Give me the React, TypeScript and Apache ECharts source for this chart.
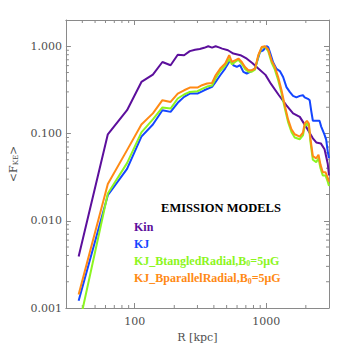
import React, { useEffect, useRef } from "react";
import * as echarts from "echarts";

// ---- data ----
const kinR = [37.5, 62.5, 87.5, 112.5, 137.5, 162.5, 187.5, 212.5, 237.5, 262.5, 287.5, 312.5, 337.5, 362.5, 387.5, 412.5, 437.5, 462.5, 512, 562, 637, 712, 787, 862, 987, 1087, 1237, 1425, 1600, 1800, 2075, 2262, 2400, 2600, 2775, 2935, 3000];
const kinF = [0.0039, 0.098, 0.185, 0.39, 0.474, 0.66, 0.606, 0.8, 0.79, 0.88, 0.91, 0.93, 0.96, 1.0, 0.966, 1.0, 0.97, 0.94, 0.9, 0.825, 0.79, 0.72, 0.64, 0.565, 0.47, 0.37, 0.28, 0.21, 0.17, 0.155, 0.11, 0.088, 0.079, 0.077, 0.066, 0.045, 0.033];

const kjR = [37.5, 62.5, 87.5, 112.5, 137.5, 162.5, 187.5, 212.5, 237.5, 262.5, 300, 337.5, 387.5, 412.5, 447, 487, 532, 562, 598, 633, 670, 711, 754, 822, 896, 949, 1007, 1035, 1066, 1129, 1198, 1269, 1344, 1425, 1509, 1598, 1696, 1800, 1901, 1958, 2074, 2140, 2200, 2262, 2400, 2541, 2617, 2772, 2855, 2935, 3000];
const kjF = [0.00121, 0.0196, 0.0394, 0.092, 0.127, 0.185, 0.177, 0.225, 0.263, 0.287, 0.287, 0.313, 0.342, 0.39, 0.465, 0.555, 0.69, 0.606, 0.579, 0.606, 0.508, 0.487, 0.508, 0.555, 0.86, 0.9, 1.0, 0.98, 0.86, 0.65, 0.55, 0.52, 0.445, 0.34, 0.3, 0.27, 0.26, 0.27, 0.275, 0.26, 0.25, 0.24, 0.18, 0.14, 0.14, 0.14, 0.12, 0.097, 0.085, 0.062, 0.052];

const bR = [37.5, 62.5, 87.5, 112.5, 137.5, 162.5, 187.5, 212.5, 237.5, 262.5, 300, 325, 355, 387.5, 412.5, 447, 488, 523, 548, 580, 615, 652, 690, 731, 776, 822, 870, 923, 978, 1035, 1098, 1163, 1232, 1307, 1384, 1466, 1555, 1646, 1796, 1901, 1958, 2038, 2110, 2173, 2262, 2399, 2497, 2585, 2691, 2820, 2935, 3000];
const tangledF = [0.0006, 0.0205, 0.0458, 0.103, 0.145, 0.199, 0.193, 0.252, 0.28, 0.3, 0.305, 0.325, 0.345, 0.355, 0.43, 0.52, 0.6, 0.72, 0.62, 0.66, 0.7, 0.63, 0.55, 0.51, 0.51, 0.54, 0.77, 0.96, 0.99, 0.88, 0.65, 0.54, 0.41, 0.29, 0.195, 0.135, 0.104, 0.09, 0.086, 0.095, 0.12, 0.13, 0.12, 0.078, 0.05, 0.047, 0.052, 0.04, 0.033, 0.033, 0.028, 0.025];
const parallelF = [0.00143, 0.0263, 0.0645, 0.127, 0.17, 0.241, 0.23, 0.287, 0.313, 0.336, 0.336, 0.358, 0.374, 0.38, 0.465, 0.555, 0.634, 0.789, 0.661, 0.691, 0.723, 0.661, 0.579, 0.531, 0.531, 0.555, 0.789, 0.98, 1.0, 0.92, 0.69, 0.58, 0.445, 0.313, 0.21, 0.145, 0.112, 0.098, 0.092, 0.102, 0.13, 0.14, 0.13, 0.085, 0.055, 0.052, 0.057, 0.044, 0.036, 0.036, 0.031, 0.028];

const xMinorTicks = [40, 50, 60, 70, 80, 90, 200, 300, 400, 500, 600, 700, 800, 900, 2000];
const yMinorTicks = [0.002, 0.003, 0.004, 0.005, 0.006, 0.007, 0.008, 0.009, 0.02, 0.03, 0.04, 0.05, 0.06, 0.07, 0.08, 0.09, 0.2, 0.3, 0.4, 0.5, 0.6, 0.7, 0.8, 0.9];

const X_MIN = 30, X_MAX = 3000, Y_MIN = 0.001, Y_MAX = 2;

const C_KIN = "#5c0f9c";
const C_KJ = "#1446ff";
const C_TANG = "#8cf520";
const C_PAR = "#ff8a14";
const AXIS = "#8a8a8a";
const LABEL = "#505050";

const zip = (a: number[], b: number[]) => a.map((v, i) => [v, b[i]]);
const isDecade = (v: number) => Math.abs(Math.log10(v) - Math.round(Math.log10(v))) < 1e-6;

export default function App() {
  const ref = useRef<HTMLDivElement>(null);
  useEffect(() => {
    if (!ref.current) return;
    const chart = echarts.init(ref.current, null, { renderer: "svg" });
    const serif = '"DejaVu Serif", serif';
    const lserif = '"Liberation Serif", serif';
    const baseX = {
      type: "log" as const, logBase: 10, min: X_MIN, max: X_MAX,
      axisLine: { show: true, lineStyle: { color: AXIS, width: 1 } },
      axisTick: { show: true, inside: true, length: 5, lineStyle: { color: AXIS } },
      splitLine: { show: false },
    };
    const baseY = {
      type: "log" as const, logBase: 10, min: Y_MIN, max: Y_MAX,
      axisLine: { show: true, lineStyle: { color: AXIS, width: 1 } },
      axisTick: { show: true, inside: true, length: 5, lineStyle: { color: AXIS } },
      splitLine: { show: false },
    };
    const tickLine = (x1: number, y1: number, x2: number, y2: number) => ({
      type: "line", shape: { x1, y1, x2, y2 }, style: { stroke: AXIS, lineWidth: 1 },
    });
    const lineSeries = (name: string, r: number[], f: number[], color: string) => ({
      name, type: "line", data: zip(r, f), showSymbol: false, symbol: "none",
      lineStyle: { color, width: 2 }, itemStyle: { color }, clip: true, z: 3,
    });
    const sub = (t: string) => `{s|${t}}`;
    chart.setOption({
      animation: false,
      grid: { left: 64, right: 20, top: 20, bottom: 41 },
      xAxis: [
        {
          ...baseX, position: "bottom",
          name: "R [kpc]", nameLocation: "middle", nameGap: 20,
          nameTextStyle: { fontFamily: serif, fontSize: 11, color: LABEL },
          axisLabel: {
            show: true, margin: 8, fontFamily: serif, fontSize: 11, color: LABEL,
            formatter: (v: number) => (isDecade(v) ? String(Math.round(v)) : ""),
          },
        },
        { ...baseX, position: "top", axisLabel: { show: false } },
      ],
      yAxis: [
        {
          ...baseY, position: "left",
          name: "{a|<F}{s|KE}{a|>}", nameLocation: "middle", nameGap: 36, nameRotate: 90,
          nameTextStyle: {
            rich: {
              a: { fontFamily: serif, fontSize: 11, color: LABEL },
              s: { fontFamily: serif, fontSize: 7, color: LABEL, padding: [5, 0, 0, 0] },
            },
          },
          axisLabel: {
            show: true, margin: 4, fontFamily: serif, fontSize: 11, color: LABEL,
            formatter: (v: number) => (isDecade(v) ? v.toFixed(3) : ""),
          },
        },
        { ...baseY, position: "right", axisLabel: { show: false } },
      ],
      series: [
        {
          type: "custom", silent: true, clip: false, z: 1,
          data: xMinorTicks.map((v) => [v, Y_MIN]),
          renderItem: (_p: any, api: any) => {
            const v = api.value(0);
            const b = api.coord([v, Y_MIN]);
            const t = api.coord([v, Y_MAX]);
            return { type: "group", children: [tickLine(b[0], b[1], b[0], b[1] - 3), tickLine(t[0], t[1], t[0], t[1] + 3)] };
          },
        },
        {
          type: "custom", silent: true, clip: false, z: 1,
          data: yMinorTicks.map((v) => [X_MIN, v]),
          renderItem: (_p: any, api: any) => {
            const v = api.value(1);
            const l = api.coord([X_MIN, v]);
            const r = api.coord([X_MAX, v]);
            return { type: "group", children: [tickLine(l[0], l[1], l[0] + 3, l[1]), tickLine(r[0], r[1], r[0] - 3, r[1])] };
          },
        },
        lineSeries("Kin", kinR, kinF, C_KIN),
        lineSeries("KJ", kjR, kjF, C_KJ),
        lineSeries("KJ_BtangledRadial", bR, tangledF, C_TANG),
        lineSeries("KJ_BparallelRadial", bR, parallelF, C_PAR),
      ],
      graphic: [
        {
          type: "text", x: 221, y: 208, z: 10,
          style: { text: "EMISSION MODELS", fill: "#000", font: `bold 12.5px ${lserif}`, align: "center", verticalAlign: "middle" },
        },
        {
          type: "text", x: 134, y: 226.5, z: 10,
          style: { text: "Kin", fill: C_KIN, font: `bold 12px ${lserif}`, verticalAlign: "middle" },
        },
        {
          type: "text", x: 134, y: 243.5, z: 10,
          style: { text: "KJ", fill: C_KJ, font: `bold 12px ${lserif}`, verticalAlign: "middle" },
        },
        {
          type: "text", x: 134, y: 260.5, z: 10,
          style: {
            text: `{a|KJ_BtangledRadial,B}${sub("0")}{a|=5μG}`, verticalAlign: "middle",
            rich: {
              a: { fill: C_TANG, font: `bold 12px ${lserif}` },
              s: { fill: C_TANG, font: `bold 8px ${lserif}`, padding: [6, 0, 0, 0] },
            },
          },
        },
        {
          type: "text", x: 134, y: 278, z: 10,
          style: {
            text: `{a|KJ_BparallelRadial,B}${sub("0")}{a|=5μG}`, verticalAlign: "middle",
            rich: {
              a: { fill: C_PAR, font: `bold 12px ${lserif}` },
              s: { fill: C_PAR, font: `bold 8px ${lserif}`, padding: [6, 0, 0, 0] },
            },
          },
        },
      ],
    });
    return () => chart.dispose();
  }, []);
  return (
    <div
      ref={ref}
      style={{ position: "fixed", left: 0, top: 0, width: 349, height: 349, background: "#fff" }}
    />
  );
}
